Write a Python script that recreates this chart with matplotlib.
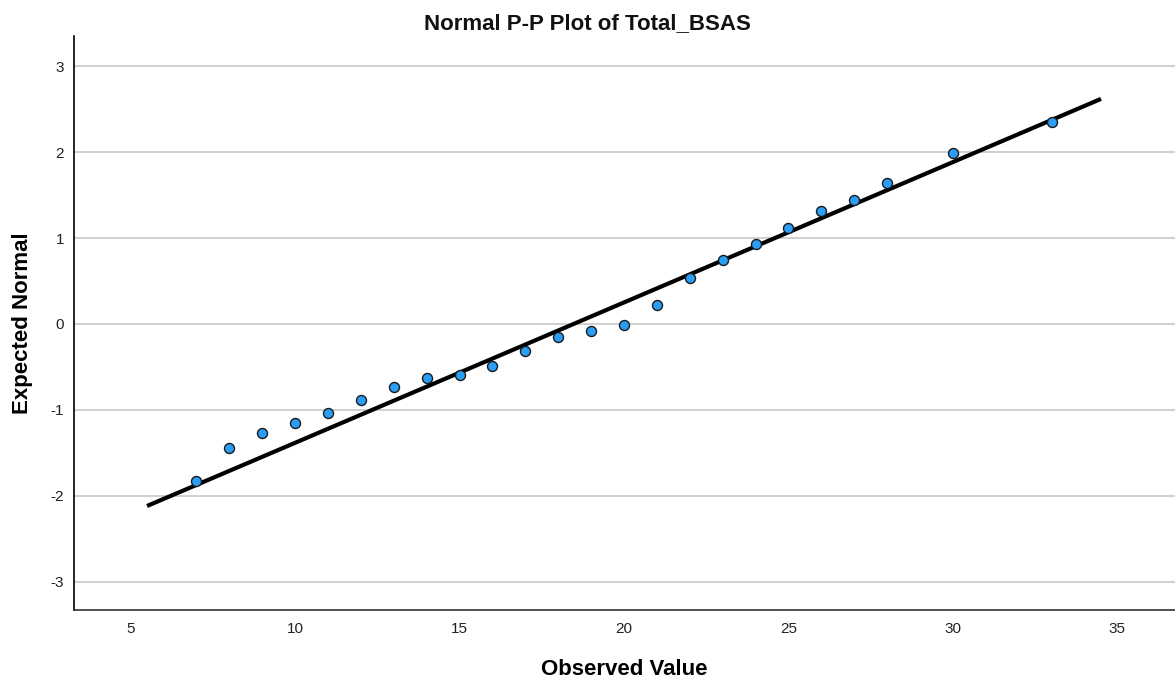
import numpy as np
import matplotlib
matplotlib.use('Agg')
import matplotlib.pyplot as plt

# values
observed = [7, 8, 9, 10, 11, 12, 13, 14, 15, 16, 17, 18, 19, 20,
            21, 22, 23, 24, 25, 26, 27, 28, 30, 33]
expected = [-1.83, -1.45, -1.27, -1.15, -1.04, -0.89, -0.73, -0.63, -0.59, -0.49,
            -0.31, -0.15, -0.08, -0.01, 0.22, 0.53, 0.75, 0.93, 1.12, 1.32,
            1.44, 1.64, 1.99, 2.35]
line_x = [5.5, 34.5]
line_y = [-2.12, 2.62]

xticks = [5, 10, 15, 20, 25, 30, 35]
yticks = [-3, -2, -1, 0, 1, 2, 3]

plt.rcParams['font.family'] = ['Liberation Sans', 'DejaVu Sans']
plt.rcParams['axes.unicode_minus'] = False

fig = plt.figure(figsize=(11.75, 6.83), dpi=100)
ax = fig.add_axes([0.0627, 0.107, 0.9373, 0.84])

# grid lines
ax.set_axisbelow(True)
ax.yaxis.grid(True, color='#c8c8c8', linewidth=1.2)

ax.plot(line_x, line_y, color='black', linewidth=3, solid_capstyle='butt', zorder=2)
ax.scatter(observed, expected, s=52, color='#2a9df4', edgecolors='#1a1a1a',
           linewidths=1.0, zorder=3)

ax.set_xlim(3.27, 36.75)
ax.set_ylim(-3.33, 3.35)
ax.set_xticks(xticks)
ax.set_yticks(yticks)
ax.tick_params(length=0, labelsize=11, pad=9, colors='#222222')
ax.tick_params(axis='y', pad=7)

for side in ['top', 'right']:
    ax.spines[side].set_visible(False)
ax.spines['left'].set_linewidth(1.2)
ax.spines['bottom'].set_linewidth(1.2)
ax.spines['bottom'].set_color('#333333')

# title is centred on the whole figure
fig.text(0.5, 1 - 29 / 683, 'Normal P-P Plot of Total_BSAS', fontsize=16,
         fontweight='bold', ha='center', va='baseline', color='#111111')
ax.set_xlabel('Observed Value', fontsize=16, fontweight='bold')
ax.set_ylabel('Expected Normal', fontsize=16, fontweight='bold')
ax.xaxis.set_label_coords(0.5, -0.104)
ax.yaxis.set_label_coords(-0.0465, 0.5)
ax.xaxis.label.set_va('center')
ax.yaxis.label.set_va('center')

fig.savefig('out.png', dpi=100)
